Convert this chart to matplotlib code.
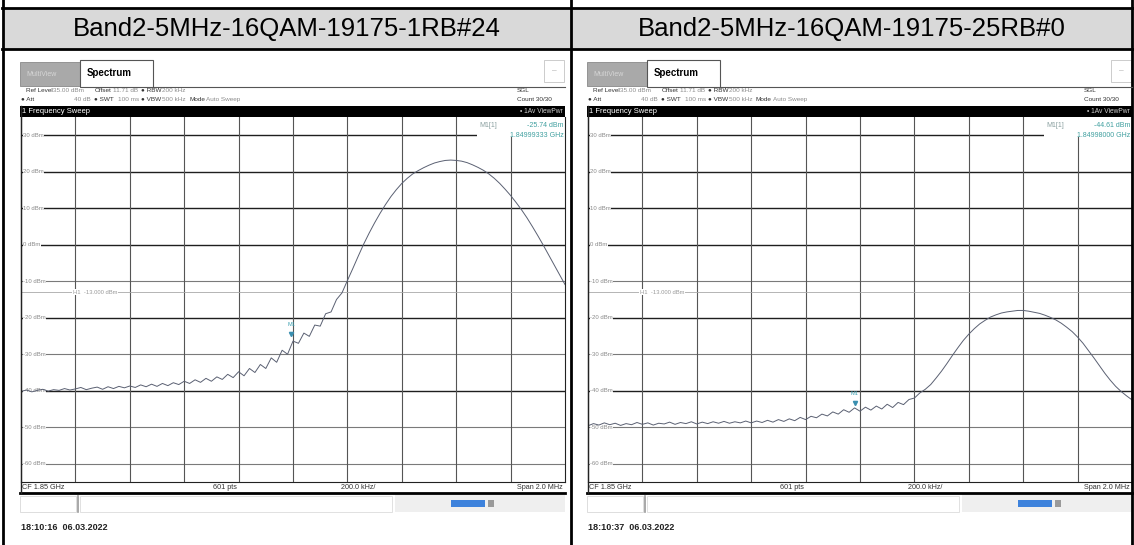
import numpy as np
import matplotlib.pyplot as plt
from matplotlib.patches import Rectangle
from matplotlib.lines import Line2D

W, H = 1134, 545

titles = ["Band2-5MHz-16QAM-19175-1RB#24", "Band2-5MHz-16QAM-19175-25RB#0"]
cf_ghz = 1.85
span_ghz = 0.002
ref_level = 35.0
bottom_level = -65.0
levels = [30, 20, 10, 0, -10, -20, -30, -40, -50, -60]
h1_level = -13.0
marker_freq = [1.84999333, 1.84998000]
marker_level = [-25.74, -44.61]
marker_freq_text = ["1.84999333 GHz", "1.84998000 GHz"]
timestamps = ["18:10:16  06.03.2022", "18:10:37  06.03.2022"]

# trace values, 101 points across the 2 MHz span
trace_1rb = [
    -40.2, -39.8, -40.3, -39.9, -39.6, -40.1, -39.7, -39.9, -39.4, -39.8,
    -39.5, -39.1, -39.7, -39.3, -39.0, -39.6, -38.9, -39.4, -38.8, -39.2,
    -38.7, -39.1, -38.4, -38.9, -38.2, -38.8, -38.0, -38.6, -37.8, -38.3,
    -37.4, -38.0, -37.0, -37.7, -36.6, -37.4, -36.2, -36.9, -35.5, -36.4,
    -34.8, -35.9, -33.9, -35.0, -32.8, -33.9, -31.0, -32.2, -28.9, -30.0,
    -26.4, -27.0, -24.2, -25.1, -22.0, -22.3, -18.9, -18.4, -15.0, -13.2,
    -9.8, -6.5, -3.1, 0.2, 3.2, 6.0, 8.6, 11.0, 13.2, 15.1,
    16.8, 18.2, 19.4, 20.3, 21.1, 21.8, 22.4, 22.8, 23.1, 23.2,
    23.1, 22.9, 22.5, 21.9, 21.2, 20.4, 19.4, 18.2, 16.8, 15.2,
    13.5, 11.6, 9.6, 7.4, 5.0, 2.5, -0.1, -2.8, -5.5, -8.2,
    -10.9,
]
trace_25rb = [
    -49.6, -49.0, -49.4, -48.8, -49.3, -48.9, -49.5, -49.0, -49.3, -48.7,
    -49.2, -48.8, -49.4, -48.9, -49.1, -48.6, -49.2, -48.7, -49.0, -48.5,
    -49.1, -48.6, -49.0, -48.5, -48.9, -48.4, -48.9, -48.5, -48.8, -48.3,
    -48.8, -48.3, -48.7, -48.1, -48.6, -47.9, -48.4, -47.7, -48.2, -47.3,
    -47.9, -47.0, -47.4, -46.4, -46.9, -45.8, -46.4, -45.2, -45.9, -44.7,
    -45.6, -44.5, -45.3, -44.2, -45.0, -43.7, -44.6, -43.2, -43.8, -42.4,
    -42.0, -40.6, -39.6, -38.3, -36.5, -34.6, -32.5, -30.3, -28.2, -26.2,
    -24.5, -23.0, -21.7, -20.7, -19.8, -19.2, -18.7, -18.4, -18.2, -18.0,
    -18.0, -18.2, -18.5, -18.8, -19.3, -19.9, -20.6, -21.5, -22.6, -23.8,
    -25.3, -27.0, -29.0, -31.0, -33.1, -35.2, -37.1, -38.8, -40.2, -41.4,
    -42.5,
]
traces = [trace_1rb, trace_25rb]

plt.rcParams['font.family'] = ['Liberation Sans', 'DejaVu Sans']
fig = plt.figure(figsize=(W / 100, H / 100), dpi=100)


def rect(x, y, w, h, **kw):
    fig.add_artist(Rectangle((x / W, 1 - (y + h) / H), w / W, h / H,
                             transform=fig.transFigure, **kw))


def text(x, y, s, **kw):
    kw.setdefault('va', 'center')
    fig.text(x / W, 1 - y / H, s, **kw)


def line(xs, ys, **kw):
    fig.add_artist(Line2D([v / W for v in xs], [1 - v / H for v in ys],
                          transform=fig.transFigure, **kw))


# table frame and header row
rect(3, 8, 1129, 41, facecolor='#d9d9d9', linewidth=0)
line([2, 1133], [7.5, 7.5], color='black', lw=2)
line([2, 1133], [49, 49], color='black', lw=2)
for xb in [3, 571, 1132]:
    line([xb, xb], [0, 545], color='black', lw=2)
text(287, 29, titles[0], ha='center', fontsize=18.5)
text(852, 29, titles[1], ha='center', fontsize=18.5)

info_dark = '#333333'
info_light = '#8c8c8c'
dark_levels = [30, 20, 10, 0, -20, -40]

for k, L in enumerate([20, 587]):
    R = L + 545
    # tabs
    rect(L, 62, 60, 24, facecolor='#a9a9a9', edgecolor='#8a8a8a', lw=0.6)
    text(L + 6, 74, "MultiView", color='#d6d6d6', fontsize=5)
    rect(L + 60, 60, 73, 27, facecolor='white', edgecolor='#555555', lw=0.8)
    text(L + 67, 73, "Spectrum", fontweight='bold', fontsize=7)
    line([L + 133, R], [86.5, 86.5], color='#555555', lw=0.8)
    rect(R - 21, 60, 20, 22, facecolor='white', edgecolor='#c4c4c4', lw=0.6)
    text(R - 11, 71, "–", color='#aaaaaa', ha='center', fontsize=6)

    # setting rows
    fs = 4.6
    text(L + 6, 90, "Ref Level", color=info_dark, fontsize=fs)
    text(L + 33, 90, "35.00 dBm", color=info_light, fontsize=fs)
    text(L + 75, 90, "Offset", color=info_dark, fontsize=fs)
    text(L + 93, 90, "11.71 dB", color=info_light, fontsize=fs)
    text(L + 121, 90, "● RBW", color=info_dark, fontsize=fs)
    text(L + 142, 90, "200 kHz", color=info_light, fontsize=fs)
    text(L + 1, 99, "● Att", color=info_dark, fontsize=fs)
    text(L + 54, 99, "40 dB", color=info_light, fontsize=fs)
    text(L + 74, 99, "● SWT", color=info_dark, fontsize=fs)
    text(L + 98, 99, "100 ms", color=info_light, fontsize=fs)
    text(L + 121, 99, "● VBW", color=info_dark, fontsize=fs)
    text(L + 142, 99, "500 kHz", color=info_light, fontsize=fs)
    text(L + 169, 99, "Mode", color=info_dark, fontsize=fs)
    text(L + 186, 99, "Auto Sweep", color=info_light, fontsize=fs)
    text(R - 48, 90, "SGL", color=info_dark, fontsize=fs)
    text(R - 48, 99, "Count 30/30", color=info_dark, fontsize=fs)

    # black title bar
    rect(L, 106, 545, 11, facecolor='black', lw=0)
    text(L + 2, 111.5, "1 Frequency Sweep", color='white', fontsize=5.5)
    text(R - 2, 111.5, "• 1Av ViewPwr", color='#cccccc', fontsize=4.8, ha='right')

    # diagram
    ax = fig.add_axes([(L + 1) / W, 1 - 482 / H, 544 / W, 365 / H])
    f0 = cf_ghz - span_ghz / 2
    f1 = cf_ghz + span_ghz / 2
    ax.set_xlim(f0, f1)
    ax.set_ylim(bottom_level, ref_level)
    ax.set_xticks([])
    ax.set_yticks([])
    for sp in ax.spines.values():
        sp.set_color('#222222')
        sp.set_linewidth(0.8)
    ax.spines['top'].set_visible(False)

    for lv in levels:
        dark = lv in dark_levels
        ax.axhline(lv, color='#1e1e1e' if dark else '#7a7a7a',
                   lw=1.0 if dark else 0.8, zorder=1)
        ax.text(0.004, lv, f"{lv} dBm", transform=ax.get_yaxis_transform(),
                fontsize=4.3, color='#8a8a8a', va='center', ha='left', zorder=2,
                bbox=dict(facecolor='white', edgecolor='none', pad=0.4))
    for d in range(1, 10):
        ax.axvline(f0 + d * span_ghz / 10, color='#555555', lw=0.8, zorder=1)

    # limit line H1
    ax.axhline(h1_level, color='#a8a8a8', lw=0.6, zorder=1.5)
    ax.text(0.095, h1_level, f"H1  {h1_level:.3f} dBm", transform=ax.get_yaxis_transform(),
            fontsize=4.2, color='#9a9a9a', va='center', ha='left', zorder=2,
            bbox=dict(facecolor='white', edgecolor='none', pad=0.4))

    # marker readout box
    ax.add_patch(Rectangle((0.839, 0.945), 0.161, 0.055, transform=ax.transAxes,
                           facecolor='white', edgecolor='none', zorder=2.5))
    ax.text(0.842, 0.978, "M1[1]", transform=ax.transAxes, fontsize=5,
            color='#8aa0a0', va='center', zorder=3)
    ax.text(0.997, 0.978, f"{marker_level[k]:.2f} dBm", transform=ax.transAxes,
            fontsize=5, color='#3f9f9f', va='center', ha='right', zorder=3)
    ax.text(0.997, 0.95, marker_freq_text[k], transform=ax.transAxes,
            fontsize=5, color='#3f9f9f', va='center', ha='right', zorder=3)

    freqs = np.linspace(f0, f1, len(traces[k]))
    ax.plot(freqs, traces[k], color='#5a6072', lw=0.7, zorder=4)

    ax.plot(marker_freq[k], marker_level[k] + 1.2, marker='v', ms=3, color='#3a8fb0',
            zorder=5, linestyle='none')
    ax.text(marker_freq[k], marker_level[k] + 3.2, "M1", fontsize=4, color='#3a9fb0',
            ha='center', va='bottom', zorder=5)

    # bottom bar
    line([L, R], [493, 493], color='black', lw=2)
    line([L + 0.5, L + 0.5], [106, 493], color='#222222', lw=1)
    text(L + 2, 487.5, "CF 1.85 GHz", fontsize=5.2, color='#333333')
    text(L + 205, 487.5, "601 pts", fontsize=5.2, color='#333333', ha='center')
    text(L + 338, 487.5, "200.0 kHz/", fontsize=5.2, color='#333333', ha='center')
    text(R - 2, 487.5, "Span 2.0 MHz", fontsize=5.2, color='#333333', ha='right')

    # status strip
    rect(L, 496, 56, 16, facecolor='white', edgecolor='#d8d8d8', lw=0.6)
    line([L + 58, L + 58], [496, 512], color='#9a9a9a', lw=1.2)
    rect(L + 60, 496, 312, 16, facecolor='white', edgecolor='#dcdcdc', lw=0.6)
    rect(L + 375, 494, 170, 18, facecolor='#efefef', lw=0)
    rect(L + 431, 500, 34, 7, facecolor='#3d82dc', lw=0)
    rect(L + 468, 500, 6, 7, facecolor='#9a9a9a', lw=0)

    text(L + 1, 528, timestamps[k], fontsize=6.5, fontweight='bold', color='#222222')

fig.savefig("out.png", dpi=100)
